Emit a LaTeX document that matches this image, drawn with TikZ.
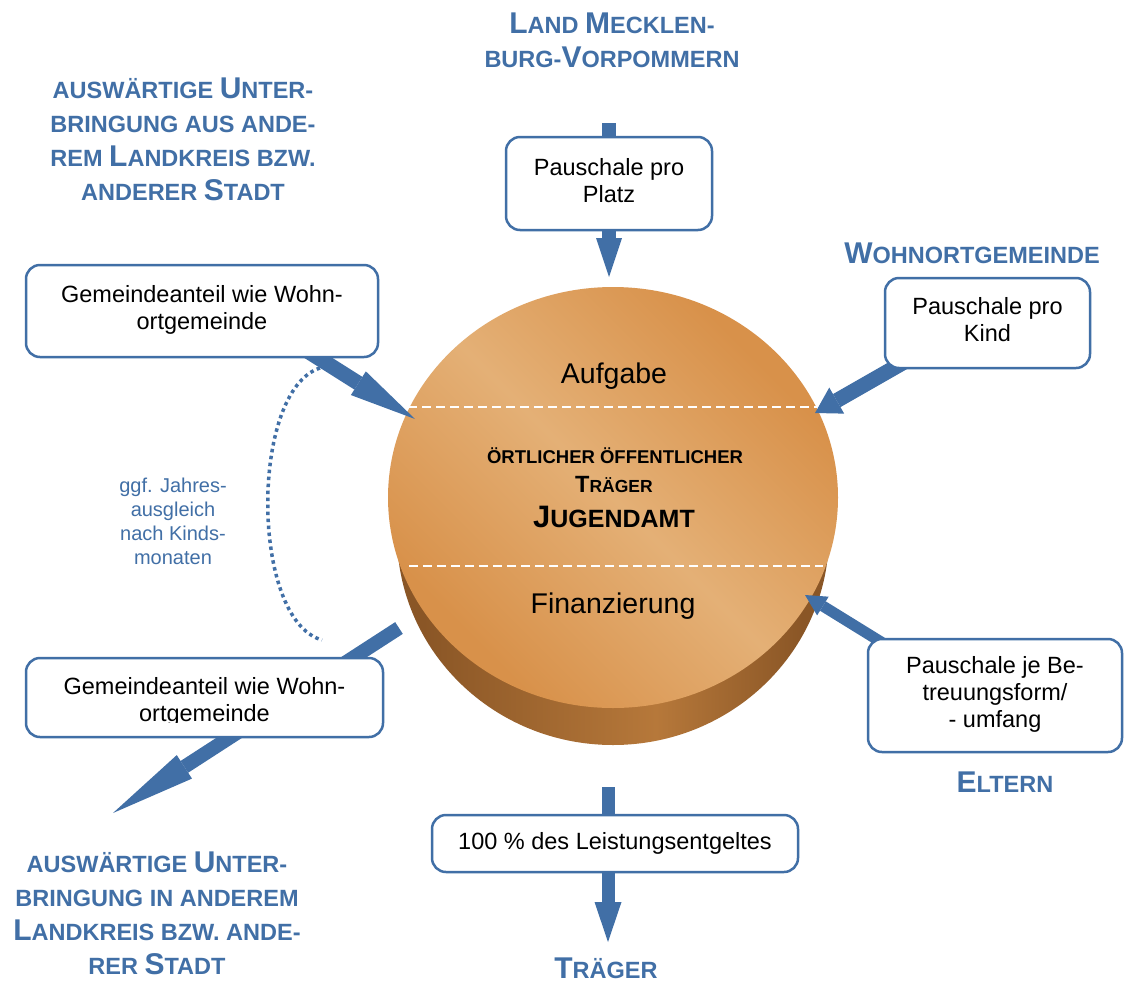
\documentclass[tikz,border=0pt]{standalone}
\usepackage{fontspec}
\setmainfont{Liberation Sans}
\usetikzlibrary{arrows.meta,calc}
\definecolor{hblue}{RGB}{65,111,166}
\definecolor{discdk}{RGB}{216,145,74}
\definecolor{disclt}{RGB}{228,176,118}
\definecolor{sidedk}{RGB}{138,86,38}
\definecolor{sidelt}{RGB}{182,120,58}
\pgfdeclarehorizontalshading{discshade}{100bp}{color(0bp)=(discdk); color(27bp)=(discdk); color(50bp)=(disclt); color(73bp)=(discdk); color(100bp)=(discdk)}
\pgfdeclarehorizontalshading{sideshade}{100bp}{color(0bp)=(sidedk); color(28bp)=(sidedk); color(55bp)=(sidelt); color(72bp)=(sidedk); color(100bp)=(sidedk)}
\newcommand\Bg[1]{{\fontsize{\bigsz}{\bigsz}\selectfont #1}}
\newcommand\rows[1]{\begin{tabular}[t]{@{}c@{}}#1\end{tabular}}
\tikzset{
  head/.style={text=hblue, inner sep=0pt, anchor=base, font=\def\bigsz{30}\fontsize{23.5}{34}\selectfont\bfseries},
  bx/.style={draw=hblue, line width=2.5pt, fill=white, rounded corners=14pt, inner sep=0pt, font=\fontsize{23.5}{27}\selectfont},
  btext/.style={inner sep=0pt, anchor=base, font=\fontsize{23.5}{27}\selectfont},
  dtext/.style={inner sep=0pt, anchor=base, font=\fontsize{28.5}{30}\selectfont},
  blk/.style n args={3}{draw=hblue, line width=#1, -{Triangle[width=#2, length=#3, line width=0pt]}},
  stub/.style={draw=hblue, line width=#1},
  sep/.style={draw=white, line width=1.6pt, dash pattern=on 9pt off 5pt},
}
\begin{document}
\begin{tikzpicture}[x=1pt,y=-1pt]
\useasboundingbox[fill=white] (0,0) rectangle (1124,983);
% disc
\shade[shading=sideshade, shading angle=0] (613,534.5) ellipse [x radius=216, y radius=210.5];
\shade[shading=discshade, shading angle=45] (613,497.5) ellipse [x radius=225, y radius=210.5];
\draw[sep] (408,407) -- (818,407);
\draw[sep] (409,566) -- (823,566);
\node[dtext] (aufg) at (614,383) {Aufgabe};
\node[dtext] (fin) at (613,613) {Finanzierung};
\node[inner sep=0pt, anchor=base, font=\fontsize{18.5}{20}\selectfont\bfseries] (c1) at (615,463) {ÖRTLICHER ÖFFENTLICHER};
\node[inner sep=0pt, anchor=base, font=\def\bigsz{23.5}\fontsize{17.5}{20}\selectfont\bfseries] (c2) at (614,492) {\Bg{T}RÄGER};
\node[inner sep=0pt, anchor=base, font=\def\bigsz{31}\fontsize{25}{28}\selectfont\bfseries] (c3) at (614,527) {\Bg{J}UGENDAMT};
% coordinates for connector ends
\coordinate (topin) at (609,123);
\coordinate (toptip) at (609,277);
\coordinate (botin) at (608,787);
\coordinate (bottip) at (608,942);
\coordinate (ultip) at (415,419);
\coordinate (urtip) at (815,413);
\coordinate (lrtip) at (805,595);
\coordinate (llstart) at (399,628);
\coordinate (lltip) at (113,813);
\coordinate (dotA) at (320,368);
\coordinate (dotB) at (322,640);
% box centres
\path (609,183.5) coordinate (ppc) (202,311) coordinate (glc) (987.5,323) coordinate (pkc)
      (995,695.5) coordinate (pbc) (204.5,697.5) coordinate (gbc) (615,843.5) coordinate (lec);
% arrows behind boxes
\draw[blk={15pt}{28pt}{67pt}] ($(glc)+(88,29)$) -- (ultip);
\draw[blk={15pt}{30pt}{25pt}] ($(pkc)+(-81.5,38)$) -- (urtip);
\draw[blk={11pt}{22pt}{21pt}] ($(pbc)+(-109,-50.5)$) -- (lrtip);
\draw[blk={14pt}{28pt}{85pt}] (llstart) -- (lltip);
\draw[stub=14pt] (topin) -- (ppc);
\draw[blk={14pt}{26pt}{39pt}] (ppc) -- (toptip);
\draw[stub=13pt] (botin) -- (botin |- lec);
\draw[blk={13pt}{27pt}{40pt}] (botin |- lec) -- (bottip);
\draw[hblue, line width=3.5pt, dash pattern=on 3.5pt off 3.5pt] (dotA) .. controls (250,390) and (250,620) .. (dotB);
% boxes
\node[bx, minimum width=206pt, minimum height=93pt] (pp) at (ppc) {\rows{Pauschale pro\\Platz}};
\node[bx, minimum width=352pt, minimum height=92pt] (gl) at (glc) {\rows{Gemeindeanteil wie Wohn-\\ortgemeinde}};
\node[bx, minimum width=205pt, minimum height=90pt] (pk) at (pkc) {\rows{Pauschale pro\\Kind}};
\node[bx, minimum width=254pt, minimum height=113pt] (pb) at (pbc) {\rows{Pauschale je Be-\\treuungsform/\\- umfang}};
\node[bx, minimum width=357pt, minimum height=79pt] (gb) at (gbc) {};
\begin{scope}
\clip (26,650) rectangle (383,722.5);
\node[btext] (gbt) at (204.5,694) {\rows{Gemeindeanteil wie Wohn-\\ortgemeinde}};
\end{scope}
\node[bx, minimum width=366pt, minimum height=57pt] (le) at (lec) {100 \% des Leistungsentgeltes};
% side note
\node[inner sep=0pt, anchor=base, text=hblue, font=\fontsize{20}{24}\selectfont] (note) at (173,492) {\rows{ggf. Jahres-\\ausgleich\\nach Kinds-\\monaten}};
% headings
\node[head] (hland) at (612,33) {\rows{\Bg{L}AND \Bg{M}ECKLEN-\\BURG-\Bg{V}ORPOMMERN}};
\node[head] (haus) at (183,98) {\rows{AUSWÄRTIGE \Bg{U}NTER-\\BRINGUNG AUS ANDE-\\REM \Bg{L}ANDKREIS BZW.\\ANDERER \Bg{S}TADT}};
\node[head] (hwohn) at (972,263) {\Bg{W}OHNORTGEMEINDE};
\node[head] (helt) at (1005,792) {\Bg{E}LTERN};
\node[head] (htr) at (606,978) {\Bg{T}RÄGER};
\node[head] (hin) at (157,872) {\rows{AUSWÄRTIGE \Bg{U}NTER-\\BRINGUNG IN ANDEREM\\\Bg{L}ANDKREIS BZW. ANDE-\\RER \Bg{S}TADT}};
\end{tikzpicture}
\end{document}
